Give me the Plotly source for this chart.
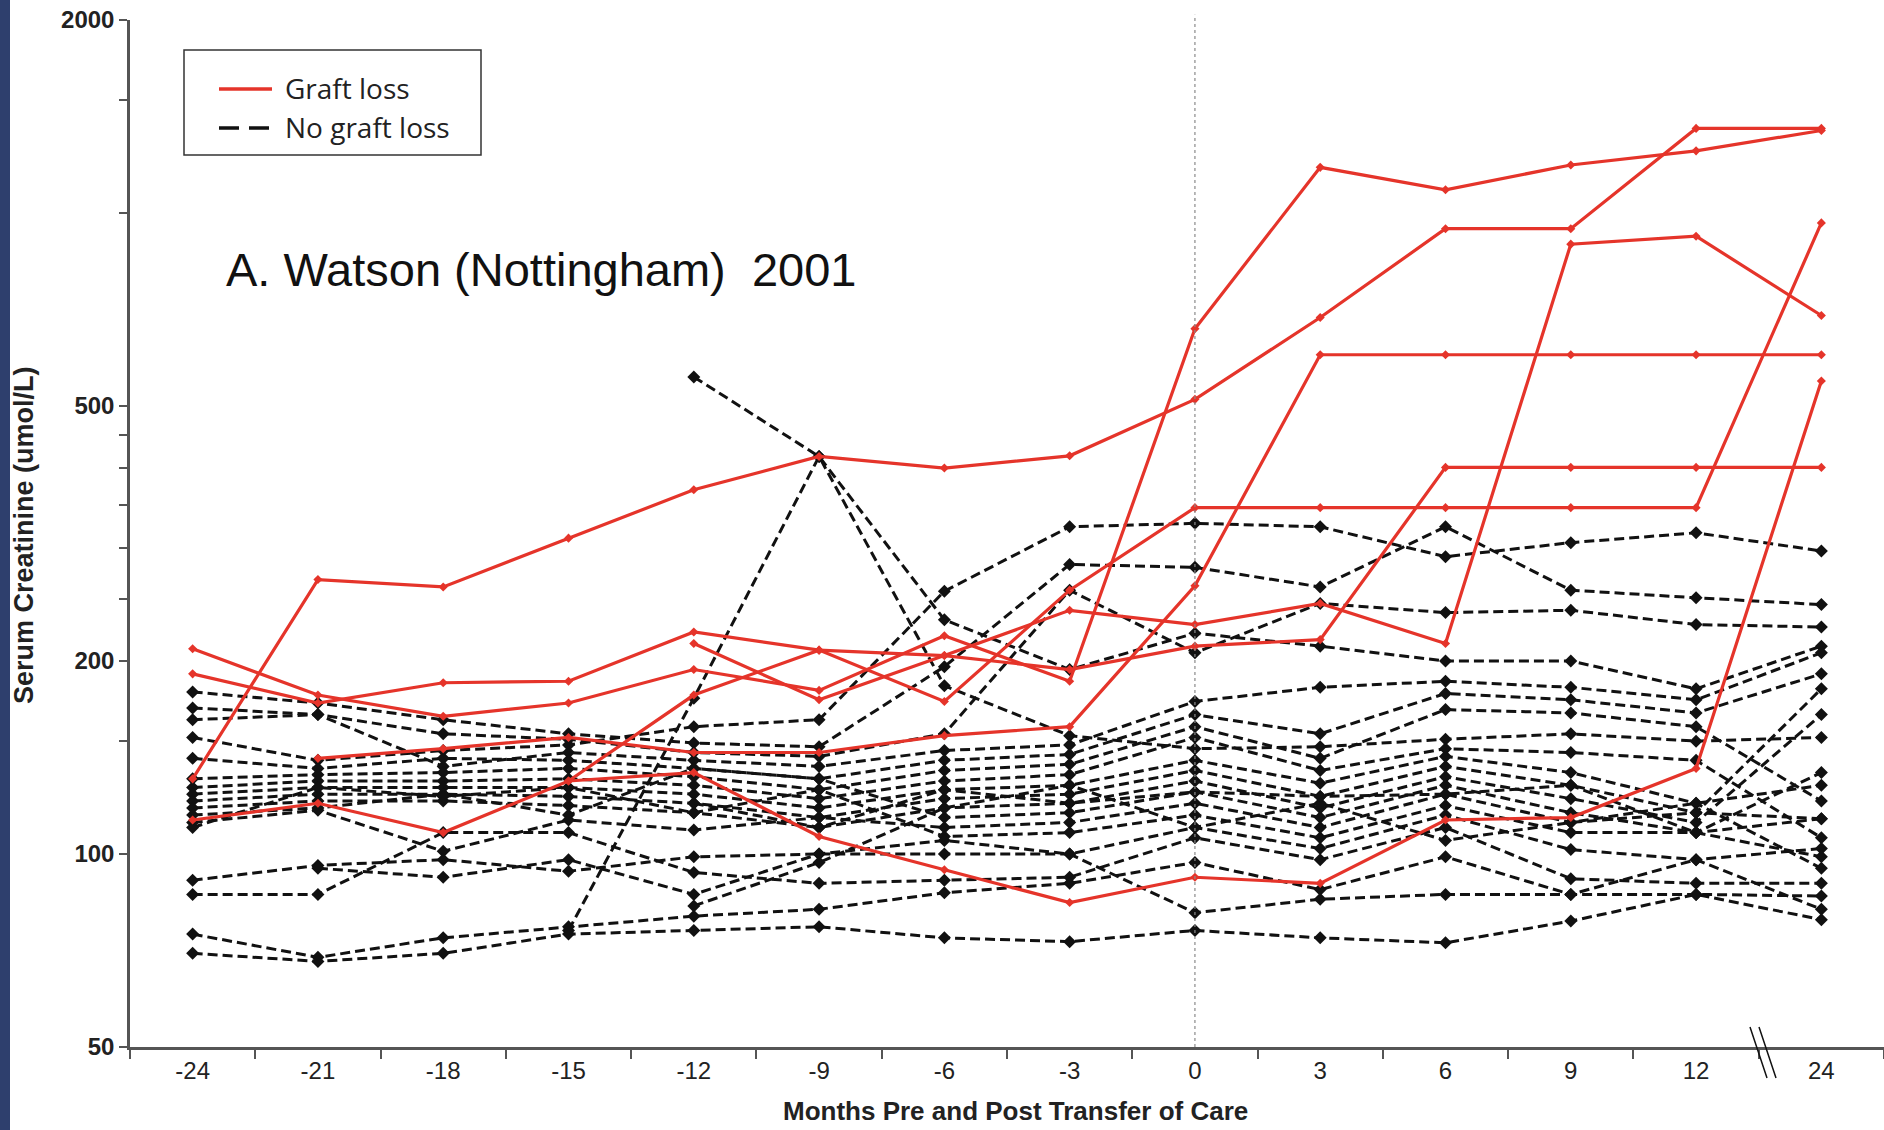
import plotly.graph_objects as go

# ---------------- data ----------------
months = ["-24", "-21", "-18", "-15", "-12", "-9", "-6", "-3", "0", "3", "6", "9", "12", "24"]

y_tick_values = [50, 100, 150, 200, 250, 300, 350, 400, 450, 500, 1000, 1500, 2000]
y_tick_labels = ["50", "100", "", "200", "", "", "", "", "", "500", "", "", "2000"]

# Graft loss patients (red)
red_a = [131, 268, 261, 311, 370, 417, 400, 418, 512, 687, 945, 945, 1355, 1355]
red_b = [209, 177, 164, 172, 194, 180, 219, 186, 660, 1178, 1087, 1188, 1250, 1345]
red_c = [191, 172, 185, 186, 222, 208, 173, 258, 347, 347, 347, 347, 347, 965]
red_d = [None, None, None, None, 213, 174, 204, 240, 228, 246, 213, 894, 920, 692]
red_e = [None, 141, 146, 152, 144, 144, 153, 158, 262, 601, 601, 601, 601, 601]
red_f = [None, None, None, 130, 177, 208, 204, 194, 211, 216, 401, 401, 401, 401]
red_g = [113, 120, 108, 130, 134, 106.5, 94.5, 84, 92, 90, 113, 114, 136, 547]

# No graft loss patients (black dashed)
blk_01 = [None, None, None, None, 555, 417, 232, 194, 221, 211, 200, 200, 181, 211]
blk_02 = [None, None, None, 76, 175, 417, 183, 153, 146, 147, 151, 154, 150, 152]
blk_03 = [152, 140, 145, 148, 158, 162, 257, 324, 328, 324, 291, 306, 317, 297]
blk_04 = [179, 172, 162, 154, 149, 147, 196, 283, 280, 261, 324, 258, 251, 245]
blk_05 = [169, 165, 154, 151, 144, 142, 154, 258, 206, 246, 238, 240, 228, 226]
blk_06 = [162, 165, 137, 144, 140, 137, 145, 148, 173, 182, 186, 182, 174, 206]
blk_07 = [141, 136, 141, 140, 136, 131, 140, 143, 165, 154, 178, 174, 166, 191]
blk_08 = [131, 133, 134, 136, 132, 126, 135, 138, 158, 141, 168, 166, 158, 121]
blk_09 = [127, 130, 130, 131, 128, 122, 130, 133, 152, 135, 146, 144, 140, 106]
blk_10 = [124, 127, 127, 127, 124, 118, 126, 128, 140, 129, 142, 134, 120, 95]
blk_11 = [121, 124, 124, 123, 120, 114, 122, 124, 135, 123, 137, 128, 116, 181]
blk_12 = [118, 121, 121, 119, 116, 110, 118, 120, 130, 118, 132, 122, 112, 165]
blk_13 = [115, 118, 124, 115, 136, 131, 114, 116, 125, 114, 128, 116, 108, 134]
blk_14 = [112, 117, 101, 113, 109, 114, 110, 112, 120, 110, 124, 112, 120, 128]
blk_15 = [110, 127, 123, 127, 116, 126, 106.5, 108, 115, 106, 119, 108, 108, 113.5]
blk_16 = [91, 96, 98, 94, 99, 100, 100, 100, 110, 102, 115, 101.6, 98, 102]
blk_17 = [86.5, 86.5, 108, 108, 93.6, 90, 91, 92, 106, 98, 110, 91.5, 90, 90]
blk_18 = [75, 69, 74, 77, 80, 82, 87, 90, 97, 88, 99, 86.5, 86.5, 86]
blk_19 = [70, 68, 70, 75, 76, 77, 74, 73, 76, 74, 72.7, 78.6, 86.5, 79]
blk_20 = [None, 95, 92, 98, 86.5, 100, 105, 100, 81, 85, 86.5, 86.5, 98, 82]
blk_21 = [None, None, None, None, 83, 97, 118, 128, 110, 120, 105, 112, 116, 113.5]
blk_22 = [None, None, None, None, 120, 110, 126, 120, 125, 123, 124, 128, 108, 99]

red_series = [red_a, red_b, red_c, red_d, red_e, red_f, red_g]
black_series = [blk_01, blk_02, blk_03, blk_04, blk_05, blk_06, blk_07, blk_08, blk_09, blk_10, blk_11,
                blk_12, blk_13, blk_14, blk_15, blk_16, blk_17, blk_18, blk_19, blk_20, blk_21, blk_22]

# ---------------- styling ----------------
RED = "#E5342A"
BLACK = "#111111"
AXIS = "#555555"
NAVY = "#2E3F6D"

W, H = 1884, 1130
ML, MR, MT, MB = 130, 0, 20, 83
PW, PH = W - ML - MR, H - MT - MB


def px(x):
    return (x - ML) / PW


def py(y):
    return (H - MB - y) / PH


fig = go.Figure()

for s in black_series:
    fig.add_trace(go.Scatter(
        x=months, y=s, mode="lines+markers", showlegend=False,
        line=dict(color=BLACK, width=3, dash="10px,5px"),
        marker=dict(symbol="diamond", size=10, color=BLACK),
        hoverinfo="skip"))

for s in red_series:
    fig.add_trace(go.Scatter(
        x=months, y=s, mode="lines+markers", showlegend=False,
        line=dict(color=RED, width=3.2),
        marker=dict(symbol="diamond", size=7, color=RED),
        hoverinfo="skip"))

shapes = [
    # navy strip at the left edge of the slide
    dict(type="rect", xref="paper", yref="paper", x0=px(0), x1=px(10), y0=py(H), y1=py(0),
         fillcolor=NAVY, line=dict(width=0), layer="below"),
    # transfer-of-care reference line at month 0
    dict(type="line", xref="x", yref="paper", x0=8, x1=8, y0=0, y1=1.005,
         line=dict(color="#8a8a8a", width=1.2, dash="dot")),
    # axis break marks between 12 and 24
    dict(type="line", xref="paper", yref="paper", x0=px(1750), x1=px(1767), y0=py(1027), y1=py(1078),
         line=dict(color=BLACK, width=1.5)),
    dict(type="line", xref="paper", yref="paper", x0=px(1759), x1=px(1776), y0=py(1027), y1=py(1078),
         line=dict(color=BLACK, width=1.5)),
    # legend box
    dict(type="rect", xref="paper", yref="paper", x0=px(184), x1=px(481), y0=py(155), y1=py(50),
         fillcolor="white", line=dict(color="#333333", width=1.5)),
    dict(type="line", xref="paper", yref="paper", x0=px(219), x1=px(272), y0=py(89), y1=py(89),
         line=dict(color=RED, width=3.5)),
    dict(type="line", xref="paper", yref="paper", x0=px(219), x1=px(272), y0=py(128), y1=py(128),
         line=dict(color=BLACK, width=3.5, dash="20px,10px")),
]

annotations = [
    dict(text="Graft loss", xref="paper", yref="paper", x=px(283), y=py(88), xanchor="left",
         yanchor="middle", showarrow=False, font=dict(family="Open Sans", size=28, color="#222")),
    dict(text="No graft loss", xref="paper", yref="paper", x=px(283), y=py(127), xanchor="left",
         yanchor="middle", showarrow=False, font=dict(family="Open Sans", size=28, color="#222")),
    dict(text="A. Watson (Nottingham) \u00a02001", xref="paper", yref="paper", x=px(224), y=py(269),
         xanchor="left", yanchor="middle", showarrow=False,
         font=dict(family="Liberation Sans", size=47, color="#111")),
    dict(text="<b>Months Pre and Post Transfer of Care</b>", xref="paper", yref="paper",
         x=px(1015), y=py(1111), xanchor="center", yanchor="middle", showarrow=False,
         font=dict(family="Liberation Sans", size=26, color="#222")),
    dict(text="<b>Serum Creatinine (umol/L)</b>", xref="paper", yref="paper", textangle=-90,
         x=px(24), y=py(535), xanchor="center", yanchor="middle", showarrow=False,
         font=dict(family="Liberation Sans", size=27, color="#222")),
]

fig.update_layout(
    width=W, height=H, autosize=False,
    margin=dict(l=ML, r=MR, t=MT, b=MB, pad=0),
    paper_bgcolor="white", plot_bgcolor="white",
    showlegend=False,
    shapes=shapes, annotations=annotations,
    xaxis=dict(type="category", categoryorder="array", categoryarray=months,
               range=[-0.5, 13.5], tickson="boundaries", ticks="outside", ticklen=9, tickwidth=2,
               tickcolor=AXIS, showline=True, linecolor=AXIS, linewidth=2.5, showgrid=False,
               zeroline=False, tickfont=dict(family="Liberation Sans", size=24, color="#222")),
    yaxis=dict(type="log", range=[1.69897, 3.30103], tickvals=y_tick_values,
               ticktext=["<b>%s</b>" % t if t else "" for t in y_tick_labels],
               ticks="outside", ticklen=8, tickwidth=2, tickcolor=AXIS, showline=True,
               linecolor=AXIS, linewidth=2.5, showgrid=False, zeroline=False,
               tickfont=dict(family="Liberation Sans", size=24, color="#222")),
)

fig.write_html("out.html", config={"displayModeBar": False},
               post_script="document.body.style.margin='0px';")
